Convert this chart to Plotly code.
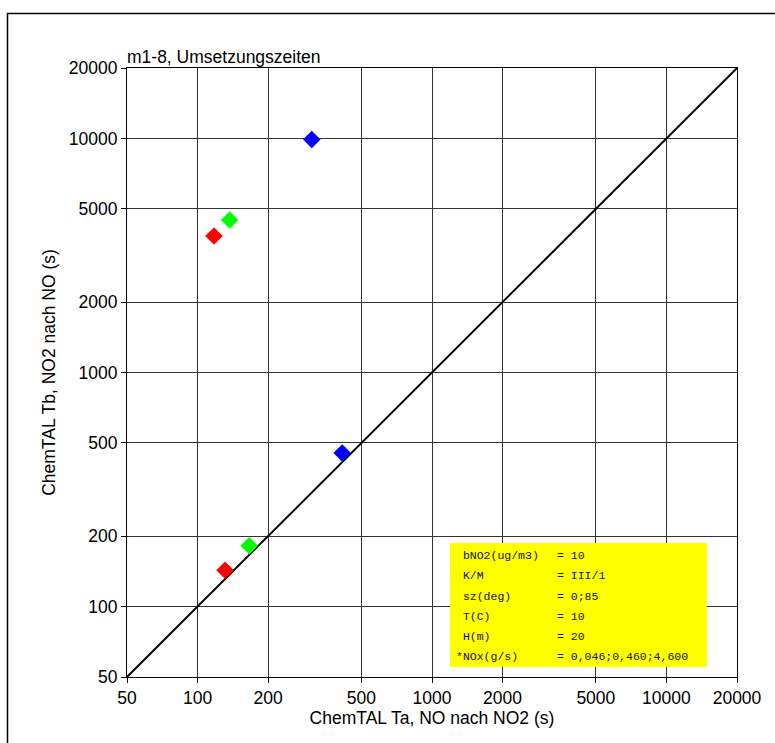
import plotly.graph_objects as go

# Data
ta_values = [307, 137, 117.5, 414, 166, 131]
tb_values = [9900, 4480, 3830, 453, 182, 143]
colors = ["#0000ff", "#00ff00", "#ff0000", "#0000ff", "#00ff00", "#ff0000"]
diag = [50, 20000]
tick_vals = [50, 100, 200, 500, 1000, 2000, 5000, 10000, 20000]
tick_text = ["50", "100", "200", "500", "1000", "2000", "5000", "10000", "20000"]
info_labels = [" bNO2(ug/m3)", " K/M", " sz(deg)", " T(C)", " H(m)", "*NOx(g/s)"]
info_values = ["= 10", "= III/1", "= 0;85", "= 10", "= 20", "= 0,046;0,460;4,600"]
title_text = "m1-8, Umsetzungszeiten"

W, H = 775, 743
L, R, T, B = 127, 38, 68, 66
pw, ph = W - L - R, H - T - B
FS = 17.5
FONT = "Liberation Sans, Arial"

def px(x):
    return (x - L) / pw

def py(y):
    return (H - B - y) / ph

fig = go.Figure()
fig.add_trace(go.Scatter(x=diag, y=diag, mode="lines",
                         line=dict(color="black", width=2), showlegend=False,
                         hoverinfo="skip"))
fig.add_trace(go.Scatter(x=ta_values, y=tb_values, mode="markers",
                         marker=dict(symbol="diamond", size=13.5, color=colors,
                                     line=dict(width=0)),
                         showlegend=False))

axis_common = dict(type="log", tickvals=tick_vals, ticktext=tick_text,
                   showgrid=True, gridcolor="#333333", gridwidth=1,
                   showline=True, linecolor="black", linewidth=1, mirror=True,
                   ticks="outside", ticklen=5, tickcolor="black",
                   tickfont=dict(family=FONT, size=FS, color="black"),
                   zeroline=False)

fig.update_layout(
    width=W, height=H,
    margin=dict(l=L, r=R, t=T, b=B),
    paper_bgcolor="white", plot_bgcolor="white",
    xaxis=dict(range=[1.69897, 4.30103],
               title=dict(text="ChemTAL Ta, NO nach NO2 (s)", standoff=4,
                          font=dict(family=FONT, size=FS, color="black")),
               **axis_common),
    yaxis=dict(range=[1.69897, 4.30103],
               title=dict(text="ChemTAL Tb, NO2 nach NO (s)", standoff=8,
                          font=dict(family=FONT, size=FS, color="black")),
               **axis_common),
)

# outer border
fig.add_shape(type="rect", xref="paper", yref="paper",
              x0=px(7.5), x1=px(790), y0=py(13.5), y1=py(760),
              line=dict(color="black", width=1.5), fillcolor="rgba(0,0,0,0)",
              layer="above")

# yellow info box
fig.add_shape(type="rect", xref="paper", yref="paper",
              x0=px(450), x1=px(707), y0=py(667), y1=py(543),
              line=dict(width=0), fillcolor="#ffff00", layer="above")

line_ys = [555, 575.5, 596, 616.5, 636.5, 656.5]
for lab, val, yy in zip(info_labels, info_values, line_ys):
    fig.add_annotation(xref="paper", yref="paper", x=px(454), y=py(yy),
                       text=lab.replace(" ", "\u00a0"), showarrow=False,
                       xanchor="left", yanchor="middle",
                       font=dict(family="Liberation Mono, Courier New", size=11.5, color="#111111"))
    fig.add_annotation(xref="paper", yref="paper", x=px(555), y=py(yy),
                       text=val.replace(" ", "\u00a0"), showarrow=False,
                       xanchor="left", yanchor="middle",
                       font=dict(family="Liberation Mono, Courier New", size=11.5, color="#111111"))

# title
fig.add_annotation(xref="paper", yref="paper", x=px(125), y=py(69),
                   text=title_text, showarrow=False, xanchor="left", yanchor="bottom",
                   font=dict(family=FONT, size=FS, color="black"))

fig.write_html("out.html")
